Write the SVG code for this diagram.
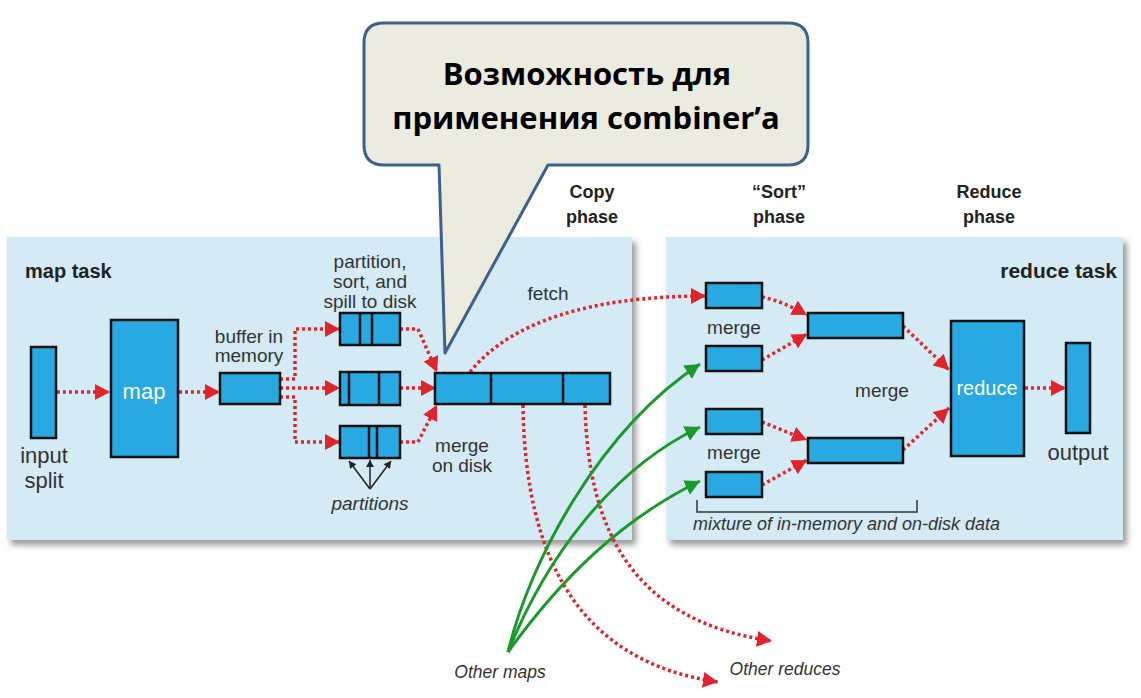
<svg xmlns="http://www.w3.org/2000/svg" width="1141" height="698" viewBox="0 0 1141 698">
<style>
.panel{fill:#d4ebf6;}
.box{fill:#29a9e1;stroke:#111;stroke-width:2.5;}
.div{stroke:#111;stroke-width:2.5;}
.red{fill:none;stroke:#e0242b;stroke-width:3.5;stroke-dasharray:3 3;marker-end:url(#ra);}
.green{fill:none;stroke:#1b9a2c;stroke-width:3;marker-end:url(#ga);}
.blk{fill:none;stroke:#222;stroke-width:1.5;marker-end:url(#ba);}
.lbl{font-family:"Liberation Sans",Arial,sans-serif;font-size:19px;fill:#333;text-anchor:middle;}
.big{font-size:22px;}
.it{font-style:italic;}
.hd{font-family:"Liberation Sans",Arial,sans-serif;font-weight:bold;fill:#222;}
.wt{font-family:"Liberation Sans",Arial,sans-serif;fill:#fff;text-anchor:middle;}
</style>
<defs>
<marker id="ra" markerUnits="userSpaceOnUse" markerWidth="16" markerHeight="16" refX="15" refY="8" orient="auto"><path d="M0,0 L15,8 L0,16 z" fill="#e0242b"/></marker>
<marker id="ga" markerUnits="userSpaceOnUse" markerWidth="16" markerHeight="16" refX="15" refY="8" orient="auto"><path d="M0,0 L15,8 L0,16 z" fill="#1b9a2c"/></marker>
<marker id="ba" markerUnits="userSpaceOnUse" markerWidth="8" markerHeight="8" refX="7" refY="4" orient="auto"><path d="M0,0 L7,4 L0,8 z" fill="#222"/></marker>
<filter id="sh" x="-5%" y="-5%" width="112%" height="115%"><feDropShadow dx="4" dy="5" stdDeviation="3" flood-color="#555" flood-opacity="0.6"/></filter>
</defs>
<rect width="1141" height="698" fill="#fff"/>

<g id="map-panel"><rect class="panel" x="7" y="237" width="625" height="303" filter="url(#sh)"/>
<text class="hd" x="25" y="278" font-size="20">map task</text></g>
<g id="reduce-panel"><rect class="panel" x="666" y="237" width="457" height="303" filter="url(#sh)"/>
<text class="hd" x="1117" y="278" font-size="21" text-anchor="end">reduce task</text></g>

<g id="phase-labels" class="hd" font-size="18" text-anchor="middle">
<text x="592" y="198">Copy</text><text x="592" y="223">phase</text>
<text x="779" y="198">“Sort”</text><text x="779" y="223">phase</text>
<text x="989" y="198">Reduce</text><text x="989" y="223">phase</text>
</g>

<g id="connectors">
<path class="red" d="M57,392 H110"/>
<path class="red" d="M179,392 H220"/>
<path class="red" d="M280,379 H295 V329 H340"/>
<path class="red" d="M280,388 H340"/>
<path class="red" d="M280,397 H295 V442 H340"/>
<path class="red" d="M400,329 H418 L437,372"/>
<path class="red" d="M400,388 H436"/>
<path class="red" d="M400,442 H418 L437,405"/>
<path class="red" d="M470,372 C510,322 590,296 706,296"/>
<path class="red" d="M523,405 C525,560 580,662 718,682"/>
<path class="red" d="M585,405 C588,540 640,622 772,641"/>
<path class="red" d="M762,297 Q782,301 807,315"/>
<path class="red" d="M762,360 L807,334"/>
<path class="red" d="M762,422 L807,440"/>
<path class="red" d="M762,485 L807,460"/>
<path class="red" d="M903,326 L949,370"/>
<path class="red" d="M903,450 L949,408"/>
<path class="red" d="M1025,388 H1066"/>
<path class="green" d="M508,652 C530,560 600,430 700,364"/>
<path class="green" d="M508,652 C545,560 610,470 700,427"/>
<path class="green" d="M508,652 C560,580 620,520 700,481"/>
<path class="blk" d="M370,489 L349,461"/>
<path class="blk" d="M370,489 L370,460"/>
<path class="blk" d="M370,489 L391,461"/>
<path d="M697,500 V512 H917 V500" fill="none" stroke="#333" stroke-width="1.5"/>
</g>

<g id="input-split"><rect class="box" x="31" y="347" width="25" height="91"/>
<text class="lbl big" x="44" y="463">input</text><text class="lbl big" x="44" y="488">split</text></g>
<g id="map"><rect class="box" x="111" y="320" width="67" height="137"/>
<text class="wt" x="144" y="399" font-size="22">map</text></g>
<g id="buffer"><rect class="box" x="220" y="373" width="60" height="31"/>
<text class="lbl" x="249" y="343">buffer in</text><text class="lbl" x="249" y="362">memory</text></g>
<g id="spill">
<text class="lbl" x="370" y="268">partition,</text><text class="lbl" x="370" y="288">sort, and</text><text class="lbl" x="370" y="308">spill to disk</text>
<rect class="box" x="340" y="313" width="60" height="32"/><path class="div" d="M360,313 V345 M372,313 V345"/>
<rect class="box" x="340" y="372" width="60" height="33"/><path class="div" d="M349,372 V405 M379,372 V405"/>
<rect class="box" x="340" y="426" width="60" height="32"/><path class="div" d="M369,426 V458 M377,426 V458"/>
<text class="lbl it" x="370" y="510">partitions</text></g>
<g id="merge-disk"><rect class="box" x="435" y="373" width="175" height="31"/><path class="div" d="M491,373 V404 M563,373 V404"/>
<text class="lbl" x="462" y="452">merge</text><text class="lbl" x="462" y="472">on disk</text>
<text class="lbl" x="548" y="300">fetch</text></g>

<g id="sort-boxes">
<rect class="box" x="706" y="283" width="56" height="25"/>
<rect class="box" x="706" y="346" width="56" height="25"/>
<rect class="box" x="706" y="409" width="56" height="25"/>
<rect class="box" x="706" y="472" width="56" height="25"/>
<text class="lbl" x="734" y="334">merge</text><text class="lbl" x="734" y="459">merge</text>
<rect class="box" x="808" y="313" width="95" height="25"/>
<rect class="box" x="808" y="438" width="95" height="25"/>
<text class="lbl" x="882" y="397">merge</text>
<text class="lbl it" x="693" y="530" style="font-size:18px;text-anchor:start">mixture of in-memory and on-disk data</text></g>
<g id="reduce"><rect class="box" x="951" y="321" width="73" height="135"/>
<text class="wt" x="987" y="395" font-size="20">reduce</text></g>
<g id="output"><rect class="box" x="1066" y="343" width="24" height="90"/>
<text class="lbl big" x="1078" y="460">output</text></g>
<g id="others">
<text class="lbl it" x="500" y="678" style="font-size:17.5px">Other maps</text>
<text class="lbl it" x="785" y="675" style="font-size:17.5px">Other reduces</text></g>

<g id="callout">
<path d="M384,23 H788 Q808,23 808,43 V145 Q808,165 788,165 H548 L445,353 L439,165 H384 Q364,165 364,145 V43 Q364,23 384,23 z" fill="#ecebe0" stroke="#40608a" stroke-width="3" stroke-linejoin="round"/>
<text x="587" y="85" font-family="'Open Sans','Noto Sans',sans-serif" font-weight="bold" font-size="31" text-anchor="middle" fill="#000">Возможность для</text>
<text x="586" y="129" font-family="'Open Sans','Noto Sans',sans-serif" font-weight="bold" font-size="31" text-anchor="middle" fill="#000">применения combiner’a</text>
</g>
</svg>
